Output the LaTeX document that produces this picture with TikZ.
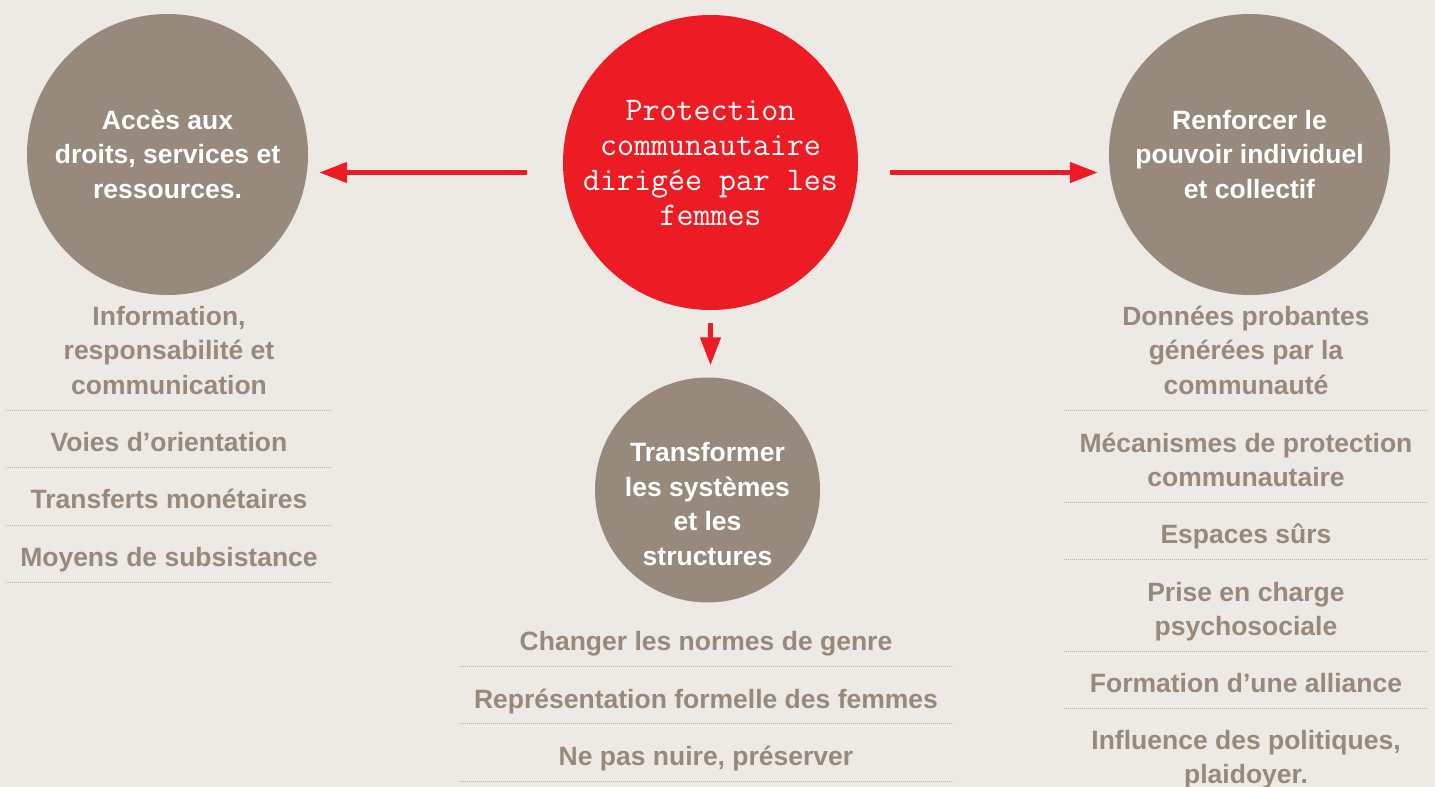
\documentclass[tikz,border=0pt]{standalone}
\usepackage{fontspec}
\setsansfont{Liberation Sans}
\usepackage{tikz}
\usetikzlibrary{arrows.meta,positioning}

\definecolor{fond}{HTML}{EDEAE5}
\definecolor{taupe}{HTML}{978A7D}
\definecolor{rouge}{HTML}{ED1C24}
\definecolor{pointille}{HTML}{BDB4AB}

\begin{document}
\begin{tikzpicture}[->,>={Triangle[length=28pt,width=20pt]},x=1pt,y=-1pt,
                    disc/.style={circle,fill=taupe,inner sep=0pt},
                    disctext/.style={text=white,align=center,anchor=base,
                      font=\sffamily\bfseries\fontsize{26.5}{34.5}\selectfont},
                    item/.style={text=taupe,align=center,anchor=base,
                      font=\sffamily\bfseries\fontsize{26.5}{34.5}\selectfont},
                    fleche/.style={draw=rouge,line width=4.5pt},
                    sep/.style={-,draw=pointille,line width=0.9pt,
                      dash pattern=on 0.9pt off 1.1pt}]
                \useasboundingbox (0,0) rectangle (1435,787);
                \fill [fond,-] (0,0) rectangle (1435,787);

                \node [disc,fill=rouge,minimum size=295pt] (centre)  at (710.5,162.5) {};
                \node [disc,minimum size=281pt]            (acces)   at (167.5,154.5) {};
                \node [disc,minimum size=281pt]            (pouvoir) at (1249.5,154.5) {};
                \node [disc,minimum size=225pt]            (trans)   at (707.5,490) {};

                % base = derniere ligne
                \node [disctext,text=white,font=\ttfamily\fontsize{33}{35}\selectfont]
                      (centreT) at ([yshift=-62.5pt]centre.center)
                      {Protection\\communautaire\\dirigée par les\\femmes};
                \node [disctext] (accesT)   at ([yshift=-43.5pt]acces.center)
                      {Accès aux\\droits, services et\\ressources.};
                \node [disctext] (pouvoirT) at ([yshift=-43.5pt]pouvoir.center)
                      {Renforcer le\\pouvoir individuel\\et collectif};
                \node [disctext] (transT)   at ([yshift=-75pt]trans.center)
                      {Transformer\\les systèmes\\et les\\structures};

                \path   ([yshift=-10pt]centre.west) edge [fleche,shorten <=36pt,shorten >=11pt] ([yshift=-18pt]acces.east)
                        ([yshift=-10pt]centre.east) edge [fleche,shorten <=32pt,shorten >=11pt] ([yshift=-18pt]pouvoir.west)
                        (centre.south) edge [fleche,shorten <=13pt,shorten >=12pt] (centre.south |- trans.north);

                % acces aux droits
                \node [item] (info)    at (169,394) {Information,\\responsabilité et\\communication};
                \node [item] (voies)   at (169,451) {Voies d’orientation};
                \node [item] (transf)  at (169,508) {Transferts monétaires};
                \node [item] (moyens)  at (169,566) {Moyens de subsistance};
                \draw [sep] (6,410) -- (332,410);
                \draw [sep] (6,467) -- (332,467);
                \draw [sep] (6,525) -- (332,525);
                \draw [sep] (6,582) -- (332,582);

                % transformer les systemes
                \node [item] (normes)  at (706,650) {Changer les normes de genre};
                \node [item] (repr)    at (706,708) {Représentation formelle des femmes};
                \node [item] (nuire)   at (706,765) {Ne pas nuire, préserver};
                \draw [sep] (459,666) -- (953,666);
                \draw [sep] (459,723) -- (953,723);
                \draw [sep] (459,781) -- (953,781);

                % renforcer le pouvoir
                \node [item] (donnees) at (1246,394) {Données probantes\\générées par la\\communauté};
                \node [item] (meca)    at (1246,486.5) {Mécanismes de protection\\communautaire};
                \node [item] (espaces) at (1246,543) {Espaces sûrs};
                \node [item] (prise)   at (1246,635.5) {Prise en charge\\psychosociale};
                \node [item] (alliance) at (1246,692) {Formation d’une alliance};
                \node [item] (influ)   at (1246,783.5) {Influence des politiques,\\plaidoyer.};
                \draw [sep] (1064,410) -- (1428,410);
                \draw [sep] (1064,502) -- (1428,502);
                \draw [sep] (1064,559) -- (1428,559);
                \draw [sep] (1064,651) -- (1428,651);
                \draw [sep] (1064,708) -- (1428,708);
            \end{tikzpicture}
\end{document}
